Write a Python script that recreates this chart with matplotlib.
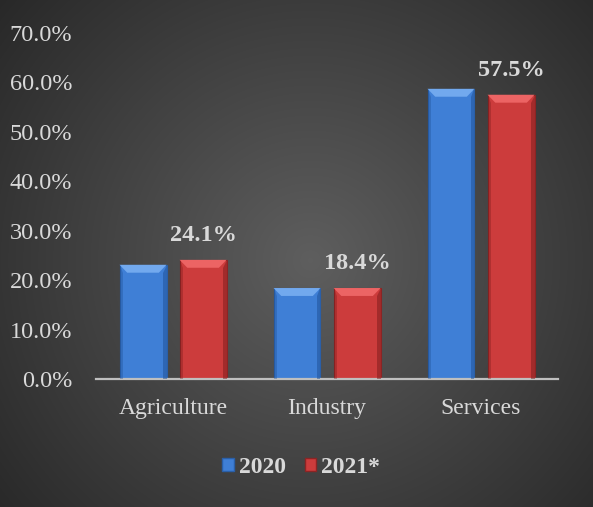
import numpy as np
import matplotlib.pyplot as plt
from matplotlib.patches import Polygon, Patch

## data
categories = ["Agriculture", "Industry", "Services"]
series_names = ["2020", "2021*"]
values_2020 = [0.231, 0.184, 0.587]
values_2021 = [0.241, 0.184, 0.575]
label_2021 = ["24.1%", "18.4%", "57.5%"]
yticks = [0.0, 0.1, 0.2, 0.3, 0.4, 0.5, 0.6, 0.7]

plt.rcParams['font.family'] = ['Liberation Serif', 'DejaVu Serif']
txt_col = '#d9d9d9'

fig = plt.figure(figsize=(5.93, 5.07), dpi=100)

##radial gradient background behind everything
bg = fig.add_axes([0, 0, 1, 1], zorder=-10)
yy, xx = np.mgrid[0:507, 0:593]
r = np.sqrt(((xx - 310) / 420.0) ** 2 + ((yy - 260) / 420.0) ** 2)
r = np.clip(r, 0, 1)
shade = 0.37 - (0.37 - 0.15) * r
bg.imshow(np.dstack([shade, shade, shade]), aspect='auto', extent=[0, 1, 0, 1])
bg.axis('off')

ax = fig.add_axes([0.162, 0.2525, 0.779, 0.6825])
ax.patch.set_alpha(0)

x = np.arange(len(categories))
w = 0.305
off = 0.195
b1 = ax.bar(x - off, values_2020, w, color='#3f7fd6', edgecolor='#2a5fa8', linewidth=0.8)
b2 = ax.bar(x + off, values_2021, w, color='#cc3c3c', edgecolor='#8c2424', linewidth=0.8)

##fake bevel on top of each bar
def bevel(bars, light, dark):
    bx = 0.05
    by = 0.016
    for bar in bars:
        x0 = bar.get_x()
        x1 = x0 + bar.get_width()
        top = bar.get_height()
        ax.add_patch(Polygon([[x0, top], [x1, top], [x1 - bx, top - by], [x0 + bx, top - by]],
                             closed=True, color=light, lw=0, zorder=3))
        ax.add_patch(Polygon([[x1, top], [x1, 0], [x1 - bx * 0.4, 0], [x1 - bx * 0.4, top - by]],
                             closed=True, color=dark, lw=0, zorder=3, alpha=0.5))
        ax.add_patch(Polygon([[x0, top], [x0, 0], [x0 + bx * 0.4, 0], [x0 + bx * 0.4, top - by]],
                             closed=True, color=dark, lw=0, zorder=3, alpha=0.35))

bevel(b1, '#72a9ee', '#1f4f93')
bevel(b2, '#ec6464', '#7a1c1c')

for i, bar in enumerate(b2):
    ax.annotate(label_2021[i], (bar.get_x() + bar.get_width() / 2, bar.get_height()),
                xytext=(0, 10), textcoords='offset points', ha='center', va='bottom',
                fontsize=17.5, fontweight='bold', color=txt_col)

ax.set_xlim(-0.5, 2.5)
ax.set_ylim(0, 0.7)
ax.set_yticks(yticks)
ax.set_yticklabels(['%.1f%%' % (v * 100) for v in yticks])
ax.set_xticks(x)
ax.set_xticklabels(categories)
ax.tick_params(axis='y', length=0, pad=17, labelsize=17.5, labelcolor=txt_col)
ax.tick_params(axis='x', length=0, pad=14, labelsize=17, labelcolor=txt_col)
for s in ['top', 'right', 'left']:
    ax.spines[s].set_visible(False)
ax.spines['bottom'].set_color('#bfbfbf')
ax.spines['bottom'].set_linewidth(1.6)

handles = [Patch(facecolor='#3f7fd6', edgecolor='#2a5fa8'),
           Patch(facecolor='#cc3c3c', edgecolor='#8c2424')]
leg = fig.legend(handles, series_names, loc='center', bbox_to_anchor=(0.508, 0.078),
                 ncol=2, frameon=False, handlelength=0.5, handleheight=0.5,
                 handletextpad=0.2, columnspacing=0.8,
                 prop={'size': 17, 'weight': 'bold', 'family': 'Liberation Serif'})
for t in leg.get_texts():
    t.set_color(txt_col)

fig.savefig('out.png', dpi=100)
